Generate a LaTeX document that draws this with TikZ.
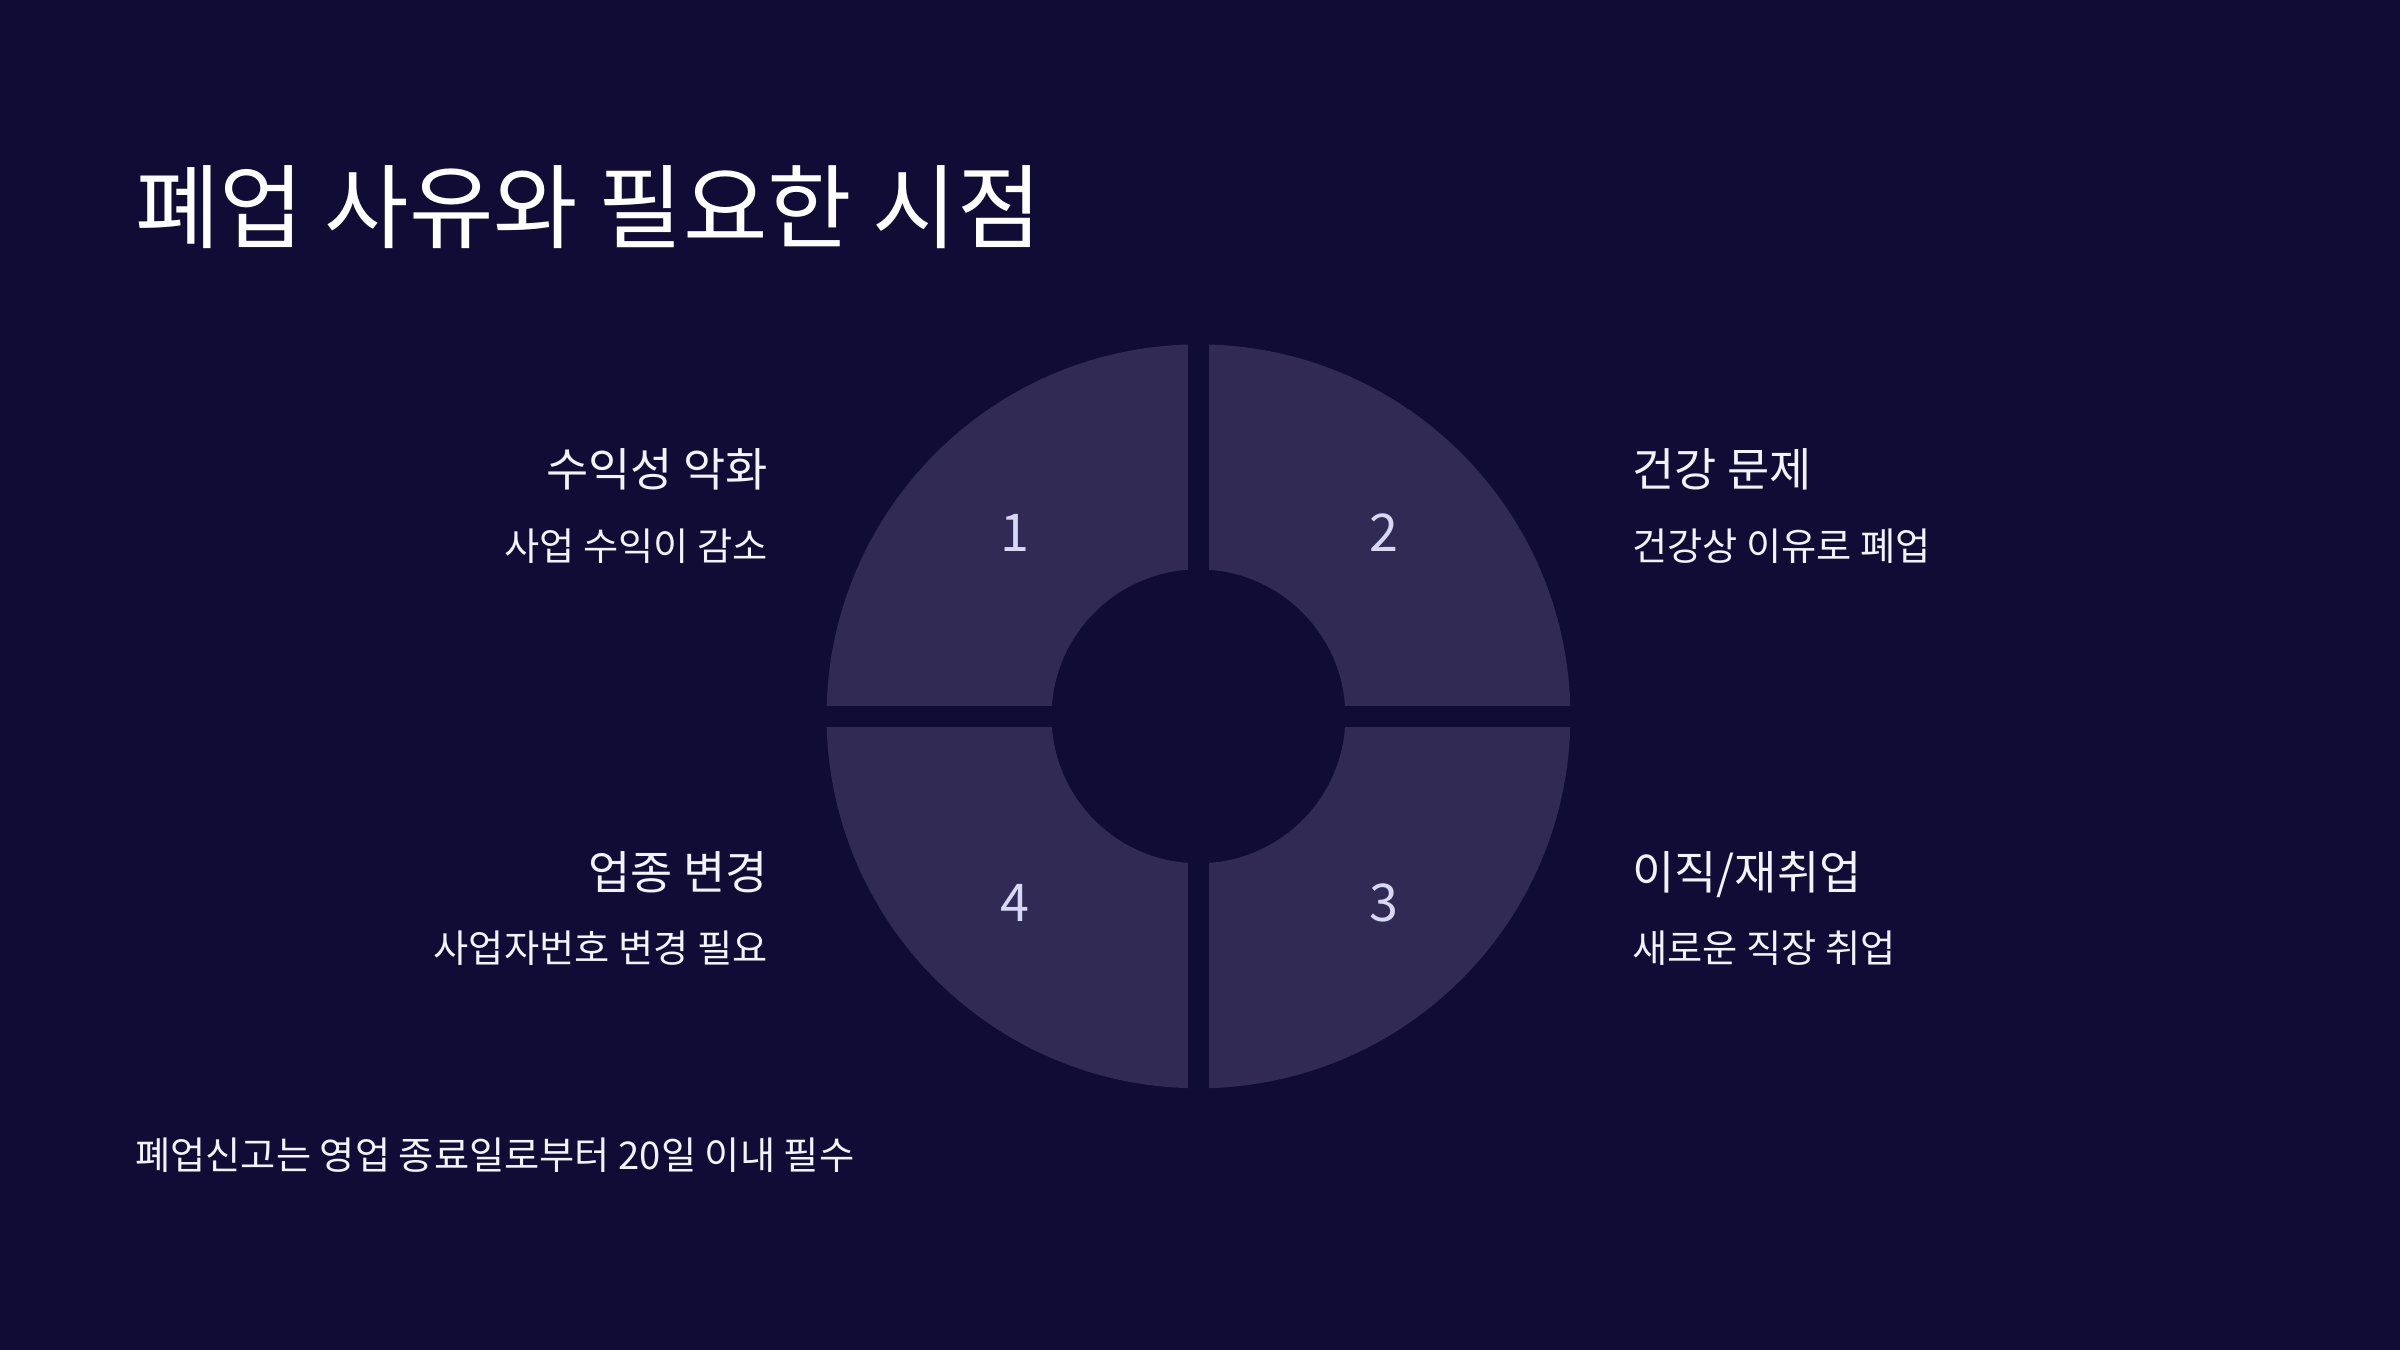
\documentclass[tikz,border=0pt]{standalone}
\usepackage{fontspec}
\setmainfont{Noto Sans CJK KR}
\definecolor{bg}{HTML}{100C35}
\definecolor{seg}{HTML}{302A55}
\definecolor{num}{HTML}{D8D8F5}
\definecolor{txt}{HTML}{F2F2FA}
\tikzset{
  head/.style={text=txt,font=\fontsize{15}{18}\selectfont,inner sep=0pt},
  sub/.style={text=txt,font=\fontsize{12.5}{15}\selectfont,inner sep=0pt},
  numlab/.style={text=num,font=\fontsize{17}{20}\selectfont,inner sep=0pt}
}
\begin{document}
\begin{tikzpicture}[x=0.5pt,y=-0.5pt]
\fill[bg] (0,0) rectangle (1568,882);
\useasboundingbox (0,0) rectangle (1568,882);
\coordinate (c) at (783,468);
\fill[seg,even odd rule] (c) circle[radius=243] (c) circle[radius=96];
\fill[bg] (776,200) rectangle (790,740);
\fill[bg] (520,461) rectangle (1050,475);
\node[anchor=base west,text=white,font=\fontsize{30}{36}\selectfont,inner sep=0pt] (title) at (88,158) {폐업 사유와 필요한 시점};
\node[numlab] (n1) at (663,348) {1};
\node[numlab] (n2) at (904,348) {2};
\node[numlab] (n3) at (904,590) {3};
\node[numlab] (n4) at (663,590) {4};
\node[head,anchor=base east] (h1) at (502,318) {수익성 악화};
\node[sub,anchor=base east] (s1) at (502,366) {사업 수익이 감소};
\node[head,anchor=base west] (h2) at (1066,318) {건강 문제};
\node[sub,anchor=base west] (s2) at (1066,366) {건강상 이유로 폐업};
\node[head,anchor=base east] (h4) at (502,581) {업종 변경};
\node[sub,anchor=base east] (s4) at (502,629) {사업자번호 변경 필요};
\node[head,anchor=base west] (h3) at (1066,581) {이직/재취업};
\node[sub,anchor=base west] (s3) at (1066,629) {새로운 직장 취업};
\node[sub,anchor=base west] (foot) at (88,764) {폐업신고는 영업 종료일로부터 20일 이내 필수};
\end{tikzpicture}
\end{document}
